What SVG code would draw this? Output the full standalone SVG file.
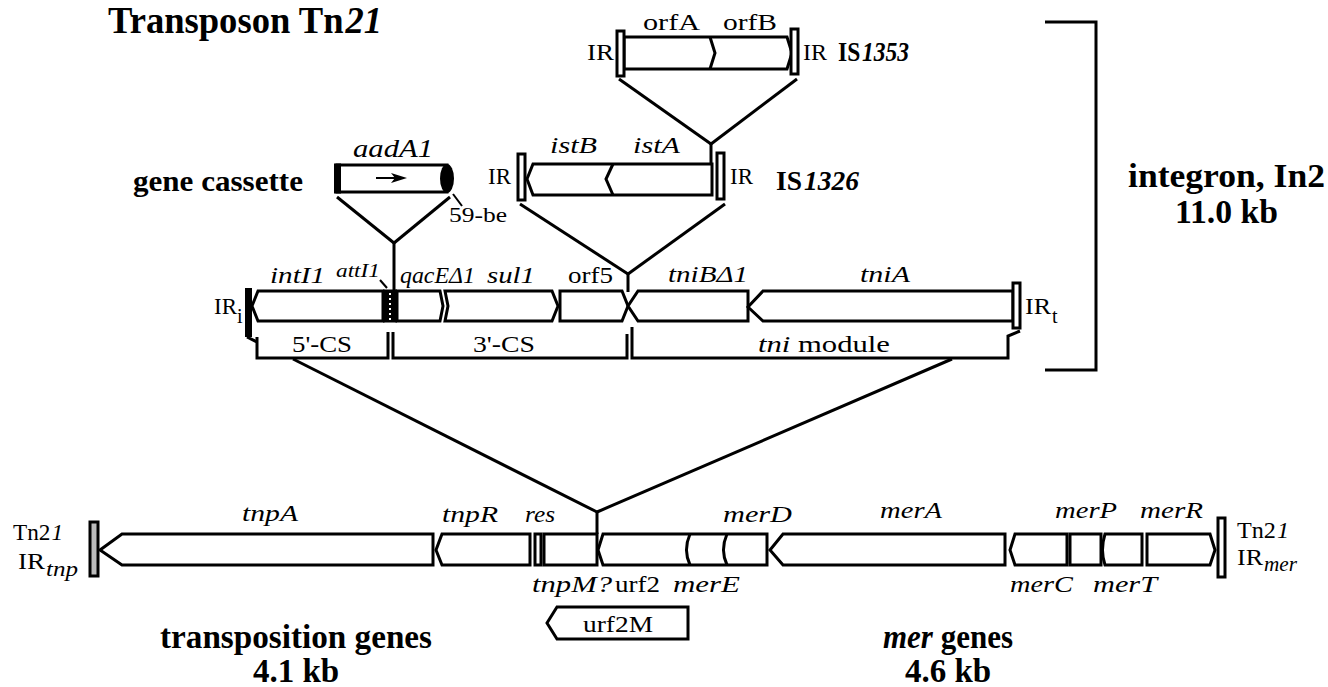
<svg xmlns="http://www.w3.org/2000/svg" width="1328" height="687" viewBox="0 0 1328 687">
<style>
text{font-family:"Liberation Serif","Times New Roman",serif;fill:#000}
.b{font-weight:bold}
.i{font-style:italic}
.g{fill:#fff;stroke:#000;stroke-width:3;stroke-linejoin:miter}
.ln{fill:none;stroke:#000;stroke-width:3}
.thin{fill:none;stroke:#000;stroke-width:2}
.irw{fill:#fff;stroke:#000;stroke-width:3}
.irg{fill:#bbb;stroke:#000;stroke-width:3}
.lab{font-size:24px}
.sm{font-size:20px}
.bl{font-size:33px;font-weight:bold}
</style>
<rect width="1328" height="687" fill="#fff"/>

<g id="title">
<text x="108" y="33" class="b" font-size="38" textLength="274" lengthAdjust="spacingAndGlyphs">Transposon Tn<tspan class="i" dx="2">21</tspan></text>
</g>

<g id="connectors">
<line class="ln" x1="619" y1="79" x2="711" y2="144"/>
<line class="ln" x1="797" y1="79" x2="711" y2="144"/>
<line class="ln" x1="711" y1="144" x2="711" y2="164"/>
<line class="ln" x1="520" y1="204" x2="628" y2="274"/>
<line class="ln" x1="725" y1="204" x2="628" y2="274"/>
<line class="ln" x1="628" y1="274" x2="628" y2="292"/>
<line class="ln" x1="337" y1="197" x2="394" y2="243"/>
<line class="ln" x1="450" y1="197" x2="394" y2="243"/>
<line class="ln" x1="394" y1="243" x2="394" y2="290"/>
<line class="thin" x1="453" y1="194" x2="462" y2="206"/>
<line class="thin" x1="380" y1="280" x2="387" y2="288"/>
<line class="ln" x1="293" y1="359" x2="597" y2="512"/>
<line class="ln" x1="952" y1="359" x2="597" y2="512"/>
<line class="ln" x1="597" y1="512" x2="597" y2="534"/>
<path class="ln" d="M1045,22 L1096,22 L1096,370 L1045,370"/>
</g>

<g id="is1353">
<path class="g" d="M624,37 L787,37 L792,53 L787,69 L624,69 Z"/>
<path class="ln" d="M710,37 L715,53 L710,69"/>
<rect class="irw" x="617" y="31" width="7" height="45"/>
<rect class="irw" x="791" y="29" width="7" height="45"/>
<text x="643" y="30" class="lab" textLength="57" lengthAdjust="spacingAndGlyphs">orfA</text>
<text x="723" y="30" class="lab" textLength="54" lengthAdjust="spacingAndGlyphs">orfB</text>
<text x="587" y="60" class="lab" textLength="27" lengthAdjust="spacingAndGlyphs">IR</text>
<text x="803" y="60" class="lab" textLength="24" lengthAdjust="spacingAndGlyphs">IR</text>
<text x="838" y="61" class="b" font-size="27" textLength="71" lengthAdjust="spacingAndGlyphs">IS<tspan class="i" dx="2">1353</tspan></text>
</g>

<g id="is1326">
<path class="g" d="M712,164 L533,164 L527,179 L533,195 L712,195 Z"/>
<path class="ln" d="M613,164 L606,179 L613,195"/>
<rect class="irw" x="518" y="154" width="7" height="46"/>
<rect class="irw" x="717" y="153" width="7" height="46"/>
<text x="550" y="153" class="lab i" textLength="47" lengthAdjust="spacingAndGlyphs">istB</text>
<text x="633" y="153" class="lab i" textLength="47" lengthAdjust="spacingAndGlyphs">istA</text>
<text x="488" y="184" class="lab" textLength="23" lengthAdjust="spacingAndGlyphs">IR</text>
<text x="730" y="184" class="lab" textLength="23" lengthAdjust="spacingAndGlyphs">IR</text>
<text x="776" y="190" class="b" font-size="27" textLength="83" lengthAdjust="spacingAndGlyphs">IS<tspan class="i" dx="2">1326</tspan></text>
</g>

<g id="gene-cassette">
<rect class="g" x="337" y="165" width="110" height="27"/>
<rect x="334" y="163.5" width="7" height="30" fill="#000"/>
<ellipse cx="447" cy="178.5" rx="7" ry="14.5" fill="#000"/>
<line x1="376" y1="178" x2="398" y2="178" stroke="#000" stroke-width="2"/>
<path d="M391,173 L407,178 L391,183 L395,178 Z" fill="#000"/>
<text x="353" y="157" class="i" font-size="26" textLength="80" lengthAdjust="spacingAndGlyphs">aadA1</text>
<text x="133" y="191" class="b" font-size="30" textLength="170" lengthAdjust="spacingAndGlyphs">gene cassette</text>
<text x="449" y="222" font-size="22" textLength="58" lengthAdjust="spacingAndGlyphs">59-be</text>
</g>

<g id="integron">
<rect x="245" y="288" width="7" height="49" fill="#000"/>
<path class="g" d="M383,291 L258,291 L252,306 L258,321 L383,321 Z"/>
<rect x="383" y="289.5" width="14" height="33" fill="#000"/>
<line x1="390" y1="293" x2="390" y2="320" stroke="#fff" stroke-width="2" stroke-dasharray="2,3"/>
<path class="g" d="M397,291 L440,291 L443,306 L440,321 L397,321 Z"/>
<path class="g" d="M445,291 L552,291 L558,306 L552,321 L445,321 L448,306 Z"/>
<path class="g" d="M560,291 L622,291 L628,306 L622,321 L560,321 Z"/>
<path class="g" d="M748,291 L638,291 L628,306 L638,321 L748,321 Z"/>
<path class="g" d="M1013,291 L763,291 L748,307 L763,321 L1013,321 Z"/>
<rect class="irw" x="1013" y="283" width="7" height="45"/>
<path class="ln" d="M247,337 L257,342"/>
<path class="ln" d="M257,337 L257,358 L388,358 L388,332"/>
<path class="ln" d="M393,332 L393,358 L627,358 L627,334"/>
<path class="ln" d="M632,327 L632,358 L1008,358 L1008,336 L1020,331"/>
<text x="214" y="314" class="lab" textLength="23" lengthAdjust="spacingAndGlyphs">IR</text>
<text x="237" y="323" class="sm">i</text>
<text x="1025" y="314" class="lab" textLength="26" lengthAdjust="spacingAndGlyphs">IR</text>
<text x="1052" y="323" class="sm">t</text>
<text x="270" y="283" class="lab i" textLength="55" lengthAdjust="spacingAndGlyphs">intI1</text>
<text x="336" y="277" class="i" font-size="18" textLength="44" lengthAdjust="spacingAndGlyphs">attI1</text>
<text x="400" y="283" class="i" font-size="23" textLength="75" lengthAdjust="spacingAndGlyphs">qacEΔ1</text>
<text x="487" y="283" class="lab i" textLength="48" lengthAdjust="spacingAndGlyphs">sul1</text>
<text x="568" y="283" class="lab" textLength="45" lengthAdjust="spacingAndGlyphs">orf5</text>
<text x="668" y="282" class="lab i" textLength="80" lengthAdjust="spacingAndGlyphs">tniBΔ1</text>
<text x="860" y="282" class="lab i" textLength="50" lengthAdjust="spacingAndGlyphs">tniA</text>
<text x="292" y="352" font-size="23" textLength="60" lengthAdjust="spacingAndGlyphs">5'-CS</text>
<text x="473" y="352" font-size="23" textLength="62" lengthAdjust="spacingAndGlyphs">3'-CS</text>
<text x="758" y="352" font-size="23" textLength="132" lengthAdjust="spacingAndGlyphs"><tspan class="i">tni</tspan> module</text>
<text x="1128" y="187" class="bl" textLength="197" lengthAdjust="spacingAndGlyphs">integron, In2</text>
<text x="1175" y="223" class="bl" textLength="103" lengthAdjust="spacingAndGlyphs">11.0 kb</text>
</g>

<g id="tn21-transposition">
<rect class="irg" x="90" y="522" width="8" height="54"/>
<path class="g" d="M433,534 L122,534 L100,550 L122,565 L433,565 Z"/>
<path class="g" d="M530,534 L442,534 L436,550 L442,565 L530,565 Z"/>
<rect class="g" x="535" y="534" width="6" height="31"/>
<rect class="g" x="544" y="534" width="53" height="31"/>
<text x="13" y="540" class="lab" textLength="50" lengthAdjust="spacingAndGlyphs">Tn2<tspan class="i" dx="1">1</tspan></text>
<text x="18" y="569" class="lab" textLength="27" lengthAdjust="spacingAndGlyphs">IR</text>
<text x="46" y="576" class="sm i" textLength="32" lengthAdjust="spacingAndGlyphs">tnp</text>
<text x="242" y="521" class="lab i" textLength="56" lengthAdjust="spacingAndGlyphs">tnpA</text>
<text x="442" y="522" class="lab i" textLength="56" lengthAdjust="spacingAndGlyphs">tnpR</text>
<text x="525" y="522" class="lab i" textLength="30" lengthAdjust="spacingAndGlyphs">res</text>
<text x="532" y="592" class="lab i" textLength="80" lengthAdjust="spacingAndGlyphs">tnpM?</text>
<text x="296" y="648" class="bl" text-anchor="middle" textLength="272" lengthAdjust="spacingAndGlyphs">transposition genes</text>
<text x="296" y="682" class="bl" text-anchor="middle">4.1 kb</text>
</g>

<g id="urf2M">
<path class="g" d="M688,607 L557,607 L547,623 L557,639 L688,639 Z"/>
<text x="583" y="632" class="lab" textLength="70" lengthAdjust="spacingAndGlyphs">urf2M</text>
</g>

<g id="tn21-mer">
<path class="g" d="M767,534 L603,534 L598,550 L603,565 L767,565 Z"/>
<path class="ln" d="M690,534 Q683,550 690,565"/>
<path class="ln" d="M727,534 Q720,550 727,565"/>
<path class="g" d="M1005,534 L783,534 L770,550 L783,565 L1005,565 Z"/>
<path class="g" d="M1067,534 L1015,534 L1010,550 L1015,565 L1067,565 Z"/>
<rect class="g" x="1070" y="534" width="31" height="31"/>
<path class="g" d="M1142,534 L1105,534 Q1100,550 1105,565 L1142,565 Z"/>
<path class="g" d="M1147,534 L1210,534 L1215,550 L1210,565 L1147,565 Z"/>
<rect class="irw" x="1218" y="518" width="7" height="59"/>
<text x="615" y="592" class="lab" textLength="45" lengthAdjust="spacingAndGlyphs">urf2</text>
<text x="673" y="592" class="lab i" textLength="67" lengthAdjust="spacingAndGlyphs">merE</text>
<text x="723" y="522" class="lab i" textLength="69" lengthAdjust="spacingAndGlyphs">merD</text>
<text x="880" y="518" class="lab i" textLength="62" lengthAdjust="spacingAndGlyphs">merA</text>
<text x="1055" y="518" class="lab i" textLength="62" lengthAdjust="spacingAndGlyphs">merP</text>
<text x="1140" y="518" class="lab i" textLength="63" lengthAdjust="spacingAndGlyphs">merR</text>
<text x="1010" y="592" class="lab i" textLength="63" lengthAdjust="spacingAndGlyphs">merC</text>
<text x="1093" y="592" class="lab i" textLength="64" lengthAdjust="spacingAndGlyphs">merT</text>
<text x="1237" y="538" class="lab" textLength="52" lengthAdjust="spacingAndGlyphs">Tn2<tspan class="i" dx="1">1</tspan></text>
<text x="1237" y="565" class="lab" textLength="26" lengthAdjust="spacingAndGlyphs">IR</text>
<text x="1264" y="571" class="sm i" textLength="33" lengthAdjust="spacingAndGlyphs">mer</text>
<text x="948" y="648" class="bl" text-anchor="middle" textLength="130" lengthAdjust="spacingAndGlyphs"><tspan class="i">mer</tspan> genes</text>
<text x="948" y="682" class="bl" text-anchor="middle">4.6 kb</text>
</g>
</svg>
